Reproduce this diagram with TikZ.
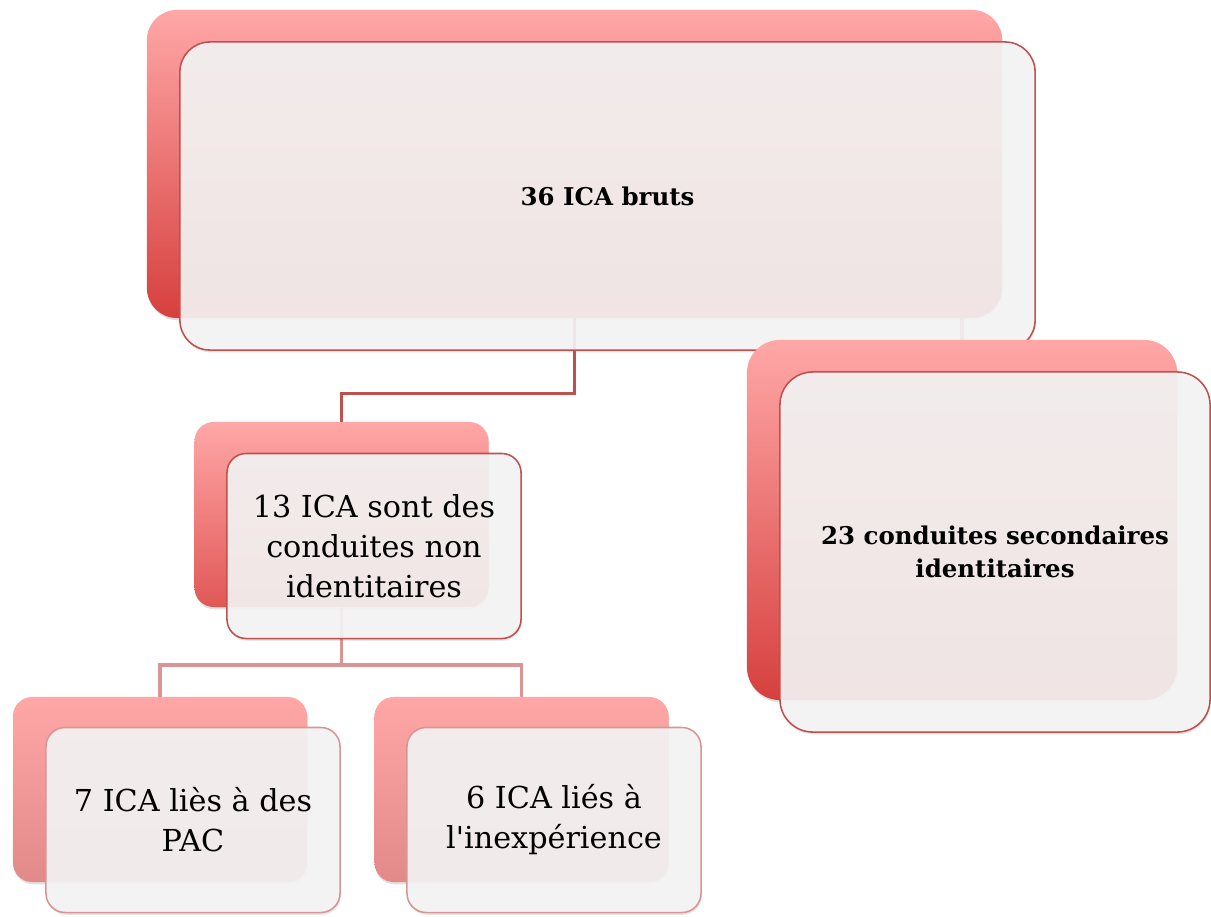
\documentclass[tikz,border=0pt]{standalone}
\usepackage{fontspec}
\setmainfont{DejaVu Serif}
\usepackage{tikz}
\usetikzlibrary{positioning,shadows,backgrounds}
\definecolor{redline}{HTML}{C0504D}
\definecolor{pinkline}{HTML}{D99594}
\definecolor{backtop}{HTML}{FFA7A7}
\definecolor{backlowA}{HTML}{D6403E}
\definecolor{backlowB}{HTML}{E05856}
\definecolor{backlowC}{HTML}{E28A8A}
\definecolor{frontfill}{HTML}{F5F5F5}

\begin{document}
\begin{tikzpicture}[x=0.025cm, y=-0.025cm]
  \tikzstyle{back}=[rectangle, top color=backtop, drop shadow={opacity=0.25, shadow xshift=0.6pt, shadow yshift=-1.6pt}]
  \tikzstyle{front}=[rectangle, draw, line width=1.1pt, fill=frontfill, fill opacity=0.9, text opacity=1, text=black, align=center, drop shadow={opacity=0.2, shadow xshift=0.6pt, shadow yshift=-1.6pt}]
  \tikzstyle{bigbox}=[minimum width=21.375cm, minimum height=7.7cm, rounded corners=0.75cm]
  \tikzstyle{sidebox}=[minimum width=10.75cm, minimum height=9.0cm, rounded corners=0.82cm]
  \tikzstyle{smallbox}=[minimum width=7.35cm, minimum height=4.625cm, rounded corners=0.48cm]
  \tikzstyle{link}=[line width=2.6pt]
  \tikzstyle{boldtext}=[font=\fontsize{17.4}{23}\selectfont\bfseries]
  \tikzstyle{plaintext}=[font=\fontsize{21.5}{28.4}\selectfont]
  \useasboundingbox (0,0) rectangle (1211,916);
  \node[back, bigbox, bottom color=backlowA] (topB) at (574.5,164) {};
  \node[front, bigbox, draw=redline, boldtext] (topF) at (607.5,196) {36 ICA bruts};
  \node[back, sidebox, bottom color=backlowA] (sideB) at (962,520) {};
  \node[front, sidebox, draw=redline, boldtext] (sideF) at (995,552) {23 conduites secondaires\\identitaires};
  \node[back, smallbox, bottom color=backlowB] (nonidB) at (341.5,514.5) {};
  \node[front, smallbox, draw=redline, plaintext] (nonidF) at (374,546) {13 ICA sont des\\conduites non\\identitaires};
  \node[back, smallbox, bottom color=backlowC] (pacB) at (160,789.5) {};
  \node[front, smallbox, draw=pinkline, plaintext] (pacF) at (193,820) {7 ICA liès à des\\PAC};
  \node[back, smallbox, bottom color=backlowC] (inexpB) at (521.5,789.5) {};
  \node[front, smallbox, draw=pinkline, plaintext] (inexpF) at (554,820) {6 ICA liés à\\l\textquotesingle inexpérience};
  \coordinate (split) at (341.5,665);
  \begin{pgfonlayer}{background}
    \draw[link, redline] (topB.south) -- ++(0,75) -| (nonidB.north);
    \draw[link, redline!70!white] (sideB.north) -- (sideB.north |- topB.south);
    \draw[link, pinkline] (nonidB.south) -- (split);
    \draw[link, pinkline] (pacB.north) |- (split) -| (inexpB.north);
  \end{pgfonlayer}
\end{tikzpicture}
\end{document}
